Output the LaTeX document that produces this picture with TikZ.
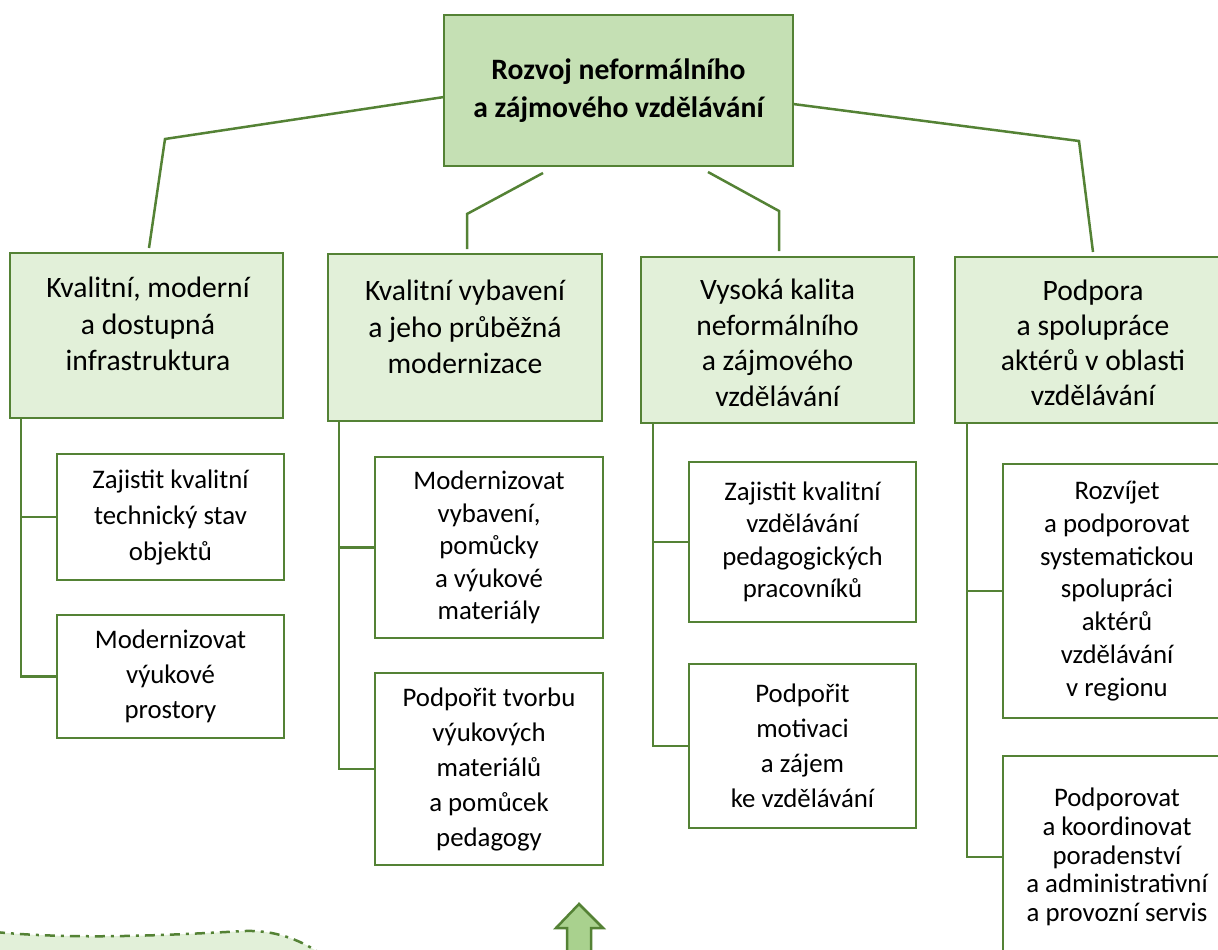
\documentclass[tikz,border=0pt]{standalone}
\usepackage{fontspec}
\setmainfont{Carlito}
\definecolor{gborder}{HTML}{548235}
\definecolor{gtop}{HTML}{C5E0B4}
\definecolor{glight}{HTML}{E2F0D9}
\definecolor{garrow}{HTML}{A9D18E}
\begin{document}
\begin{tikzpicture}[x=1pt,y=-1pt,
 conn/.style={draw=gborder,line width=2.5pt},
 box/.style={draw=gborder,line width=2.7pt,rectangle,inner sep=0pt},
 topbox/.style={box,fill=gtop,font=\fontsize{29.6}{38}\selectfont\bfseries,align=center},
 l2box/.style={box,fill=glight},
 l2txt/.style={font=\fontsize{29.6}{36.5}\selectfont,align=center,inner sep=0pt},
 l3box/.style={box,fill=white,align=center,font=\fontsize{26.8}{33}\selectfont},
]
\useasboundingbox (0,0) rectangle (1218,950);

% top
\node[topbox,minimum width=349pt,minimum height=151pt] (T) at (618.5,90.5) {Rozvoj neformálního\\a zájmového vzdělávání};

% level 2
\node[l2box,minimum width=273pt,minimum height=165pt] (A) at (146.5,335.5) {};
\node[l2box,minimum width=274pt,minimum height=167pt] (B) at (465,337.5) {};
\node[l2box,minimum width=273pt,minimum height=166pt] (C) at (777.5,340) {};
\node[l2box,minimum width=275pt,minimum height=166pt] (D) at (1092.5,340) {};
\node[l2txt] (At) at (148,324) {Kvalitní, moderní\\a dostupná\\infrastruktura};
\node[l2txt] (Bt) at (465,327) {Kvalitní vybavení\\a jeho průběžná\\modernizace};
\node[l2txt,font=\fontsize{29.6}{35.5}\selectfont] (Ct) at (777.5,343) {Vysoká kalita\\neformálního\\a zájmového\\vzdělávání};
\node[l2txt,font=\fontsize{29.6}{35}\selectfont] (Dt) at (1093,343) {Podpora\\a spolupráce\\aktérů v oblasti\\vzdělávání};

% level 3
\node[l3box,minimum width=227pt,minimum height=126pt,font=\fontsize{26.8}{36}\selectfont] (A1) at (170.5,517) {Zajistit kvalitní\\technický stav\\objektů};
\node[l3box,minimum width=227pt,minimum height=123pt,font=\fontsize{26.8}{35}\selectfont] (A2) at (170.5,676.5) {Modernizovat\\výukové\\prostory};
\node[l3box,minimum width=228pt,minimum height=181pt,font=\fontsize{26.8}{32.5}\selectfont] (B1) at (489,547.5) {Modernizovat\\vybavení,\\pomůcky\\a výukové\\materiály};
\node[l3box,minimum width=228pt,minimum height=192pt,font=\fontsize{26.8}{35}\selectfont] (B2) at (489,769) {Podpořit tvorbu\\výukových\\materiálů\\a pomůcek\\pedagogy};
\node[l3box,minimum width=227pt,minimum height=160pt,font=\fontsize{26.8}{32.5}\selectfont] (C1) at (802.5,542) {Zajistit kvalitní\\vzdělávání\\pedagogických\\pracovníků};
\node[l3box,minimum width=227pt,minimum height=164pt,font=\fontsize{26.8}{35}\selectfont] (C2) at (802.5,746) {Podpořit\\motivaci\\a zájem\\ke vzdělávání};
\node[l3box,minimum width=228pt,minimum height=254pt,font=\fontsize{26.8}{32.8}\selectfont] (D1) at (1117,591) {Rozvíjet\\a podporovat\\systematickou\\spolupráci\\aktérů\\vzdělávání\\v regionu};
\node[l3box,minimum width=228pt,minimum height=202pt,font=\fontsize{26.8}{28.8}\selectfont] (D2) at (1117,857) {Podporovat\\a koordinovat\\poradenství\\a administrativní\\a provozní servis};

% connectors from top
\coordinate (tA0) at (444,97);
\coordinate (tA1) at (165,139);
\coordinate (tA2) at (149,248);
\draw[conn] (tA0) -- (tA1) -- (tA2);
\coordinate (tB0) at (543,173);
\coordinate (tB1) at (467,214);
\coordinate (tB2) at (467,249);
\draw[conn] (tB0) -- (tB1) -- (tB2);
\coordinate (tC0) at (708,172);
\coordinate (tC1) at (779,211);
\coordinate (tC2) at (779,251);
\draw[conn] (tC0) -- (tC1) -- (tC2);
\coordinate (tD0) at (793,104);
\coordinate (tD1) at (1079,141);
\coordinate (tD2) at (1093,252);
\draw[conn] (tD0) -- (tD1) -- (tD2);

% brackets
\coordinate (Abr) at (21,418);
\draw[conn] (Abr) |- (A2.west);
\draw[conn] (A1.west) -- (A1.west -| Abr);
\coordinate (Bbr) at (339,421);
\draw[conn] (Bbr) |- (B2.west);
\draw[conn] (B1.west) -- (B1.west -| Bbr);
\coordinate (Cbr) at (653,423);
\draw[conn] (Cbr) |- (C2.west);
\draw[conn] (C1.west) -- (C1.west -| Cbr);
\coordinate (Dbr) at (967,423);
\draw[conn] (Dbr) |- (D2.west);
\draw[conn] (D1.west) -- (D1.west -| Dbr);

% bottom-left wave shape
\fill[glight] (-5,932) .. controls (80,940) and (170,935) .. (245,931) .. controls (275,930) and (300,940) .. (318,952) -- (318,960) -- (-5,960) -- cycle;
\draw[draw=gborder,line width=2.5pt,dash pattern=on 10pt off 6pt on 3pt off 6pt] (-5,932) .. controls (80,940) and (170,935) .. (245,931) .. controls (275,930) and (300,940) .. (318,952);

% bottom arrow
\draw[draw=gborder,fill=garrow,line width=2.5pt,line join=miter] (579,904) -- (603,928) -- (591,928) -- (591,965) -- (567,965) -- (567,928) -- (556,928) -- cycle;
\end{tikzpicture}
\end{document}
